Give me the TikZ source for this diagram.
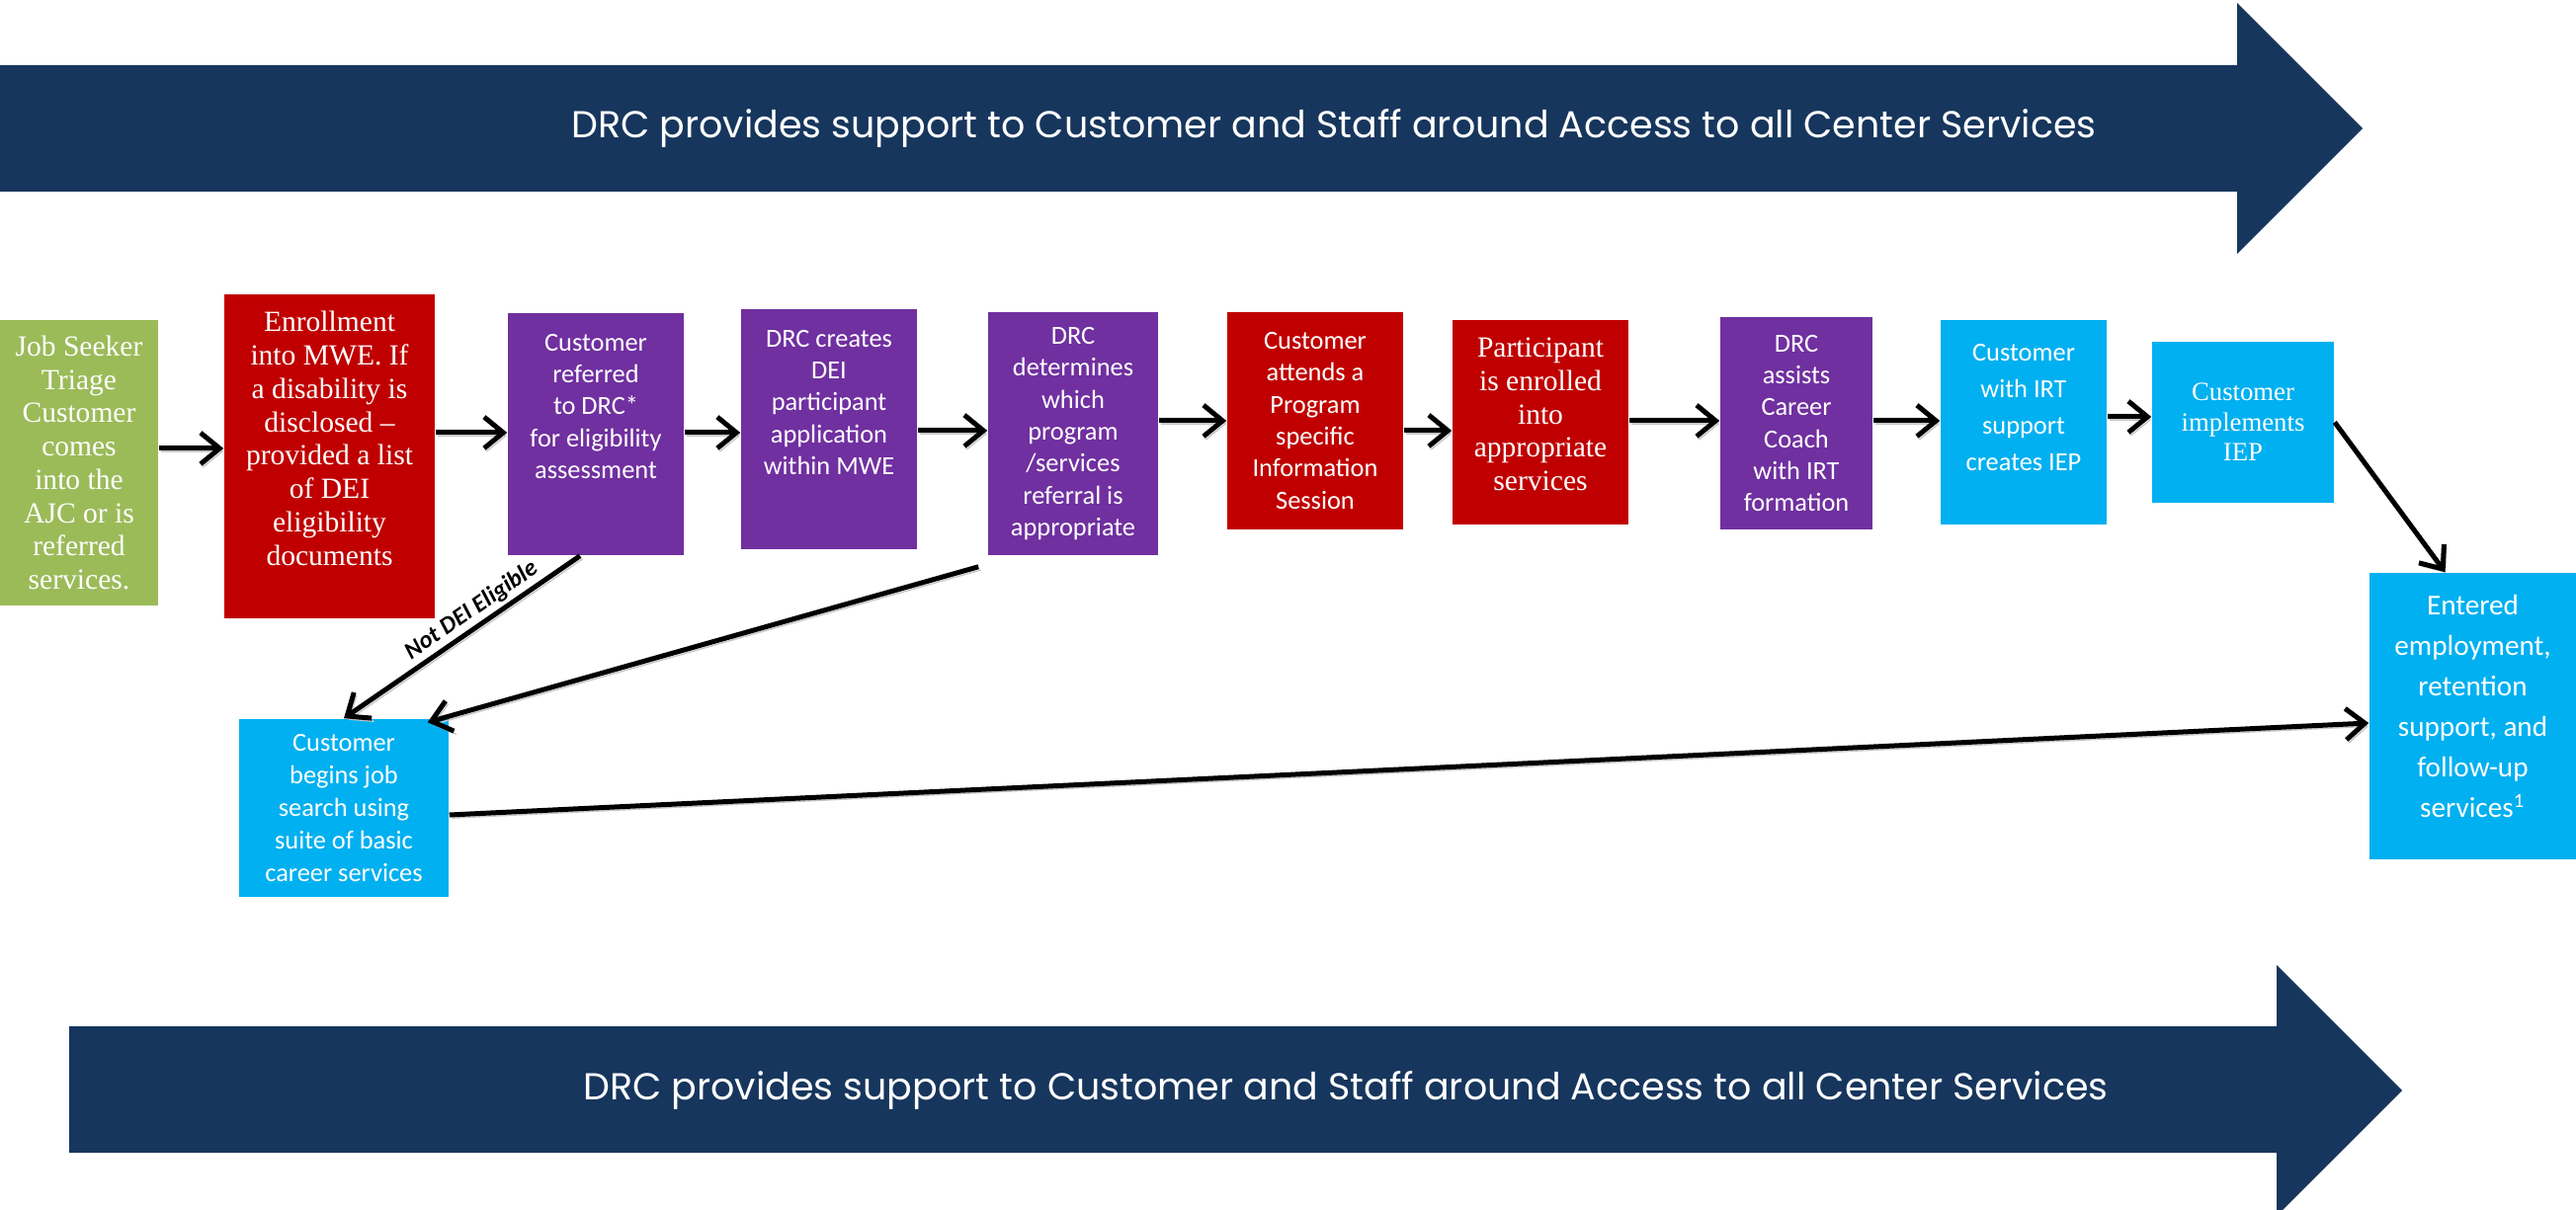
\documentclass[tikz,border=0pt]{standalone}
\usepackage{fontspec}
\usetikzlibrary{arrows.meta}
\newfontfamily\calibri{Carlito}
\newfontfamily\timesfont{Liberation Serif}
\newfontfamily\gothic{Poppins}
\definecolor{drcnavy}{HTML}{17365D}
\definecolor{drcgreen}{HTML}{9BBB59}
\definecolor{drcred}{HTML}{C00000}
\definecolor{drcpurple}{HTML}{7030A0}
\definecolor{drcblue}{HTML}{00B0F0}
\tikzset{
  stage/.style={rectangle, inner sep=0pt, draw=none},
  serif/.style={text=white, align=center, inner sep=0pt, font=\timesfont\fontsize{8.4}{9.6}\selectfont},
  sans/.style={text=white, align=center, inner sep=0pt, font=\calibri\fontsize{7.5}{9.2}\selectfont},
  banner/.style={text=white, inner sep=0pt, font=\gothic\fontsize{10.8}{12}\selectfont},
  flow/.style={->, line width=.5mm, preaction={draw=black!22, transform canvas={xshift=.7pt,yshift=-.9pt}}}
}
\begin{document}
\begin{tikzpicture}[x=0.01cm, y=-0.01cm, >={Straight Barb[length=5.5pt,width=9pt]}]
  \useasboundingbox (0,0) rectangle (2607,1225);
  % bandeaux
  \fill[drcnavy] (0,66) -- (2264,66) -- (2264,3) -- (2391,130) -- (2264,257) -- (2264,194) -- (0,194) -- cycle;
  \node[banner] (topband) at (1350,130) {DRC provides support to Customer and Staff around Access to all Center Services};
  \fill[drcnavy] (70,1039) -- (2304,1039) -- (2304,977) -- (2431,1104) -- (2304,1231) -- (2304,1167) -- (70,1167) -- cycle;
  \node[banner] (bottomband) at (1362,1104) {DRC provides support to Customer and Staff around Access to all Center Services};

  % etapes
  \node[stage, fill=drcgreen, minimum width=1.60cm, minimum height=2.89cm] (triage) at (80,468.5) {};
  \node[serif] (triage-t) at (triage) {Job Seeker\\Triage\\Customer\\comes\\into the\\AJC or is\\referred\\services.};
  \node[stage, fill=drcred, minimum width=2.13cm, minimum height=3.28cm] (enrol) at (333.5,462) {};
  \node[serif] (enrol-t) at ([yshift=1.8mm]enrol) {Enrollment\\into MWE. If\\a disability is\\disclosed –\\provided a list\\of DEI\\eligibility\\documents};
  \node[stage, fill=drcpurple, minimum width=1.78cm, minimum height=2.45cm] (refer) at (603,439.5) {};
  \node[sans] (refer-t) at ([yshift=2.8mm]refer) {Customer\\referred\\to DRC*\\for eligibility\\assessment};
  \node[stage, fill=drcpurple, minimum width=1.78cm, minimum height=2.43cm] (create) at (839,434.5) {};
  \node[sans] (create-t) at ([yshift=2.7mm]create) {DRC creates\\DEI\\participant\\application\\within MWE};
  \node[stage, fill=drcpurple, minimum width=1.72cm, minimum height=2.46cm] (determine) at (1086,439) {};
  \node[sans] (determine-t) at (determine) {DRC\\determines\\which\\program\\/services\\referral is\\appropriate};
  \node[stage, fill=drcred, minimum width=1.78cm, minimum height=2.20cm] (session) at (1331,426) {};
  \node[sans] (session-t) at (session) {Customer\\attends a\\Program\\specific\\Information\\Session};
  \node[stage, fill=drcred, minimum width=1.78cm, minimum height=2.07cm] (enrolled) at (1559,427.5) {};
  \node[serif] (enrolled-t) at ([yshift=.8mm]enrolled) {Participant\\is enrolled\\into\\appropriate\\services};
  \node[stage, fill=drcpurple, minimum width=1.54cm, minimum height=2.15cm] (coach) at (1818,428.5) {};
  \node[sans] (coach-t) at (coach) {DRC\\assists\\Career\\Coach\\with IRT\\formation};
  \node[stage, fill=drcblue, minimum width=1.68cm, minimum height=2.07cm] (iep) at (2048,427.5) {};
  \node[sans, font=\calibri\fontsize{7.5}{10.5}\selectfont] (iep-t) at ([yshift=1.5mm]iep) {Customer\\with IRT\\support\\creates IEP};
  \node[stage, fill=drcblue, minimum width=1.84cm, minimum height=1.63cm] (implement) at (2270,427.5) {};
  \node[serif, font=\timesfont\fontsize{7.6}{8.7}\selectfont] (implement-t) at (implement) {Customer\\implements\\IEP};
  \node[stage, fill=drcblue, minimum width=2.09cm, minimum height=2.90cm] (employ) at (2502.5,725) {};
  \node[sans, font=\calibri\fontsize{8.3}{11.7}\selectfont] (employ-t) at ([yshift=1mm]employ) {Entered\\employment,\\retention\\support, and\\follow-up\\services\textsuperscript{1}};
  \node[stage, fill=drcblue, minimum width=2.12cm, minimum height=1.80cm] (jobsearch) at (348,818) {};
  \node[sans, font=\calibri\fontsize{7.5}{9.4}\selectfont] (jobsearch-t) at (jobsearch) {Customer\\begins job\\search using\\suite of basic\\career services};

  % fleches
  \foreach \a/\b/\y in {triage/enrol/454, enrol/refer/438, refer/create/438, create/determine/436,
      determine/session/426, session/enrolled/436, enrolled/coach/426, coach/iep/426, iep/implement/422}{
    \draw[flow] (\a.east |- 0,\y) -- (\b.west |- 0,\y);
  }
  \draw[flow] (implement.east) -- ([xshift=-2.8mm]employ.north);
  \draw[flow] ([xshift=-1.6mm]refer.south) -- node[pos=.42, sloped, above, inner sep=1pt, font=\calibri\bfseries\itshape\fontsize{7}{8}\selectfont] (noteligible) {Not DEI Eligible} (jobsearch.north);
  \draw[flow] ([xshift=-.9mm,yshift=-1.1mm]determine.south west) -- ([xshift=-2.2mm,yshift=-.4mm]jobsearch.north east);
  \draw[flow] ([yshift=-.7mm]jobsearch.east) -- ([yshift=-.7mm]employ.west);
\end{tikzpicture}
\end{document}
